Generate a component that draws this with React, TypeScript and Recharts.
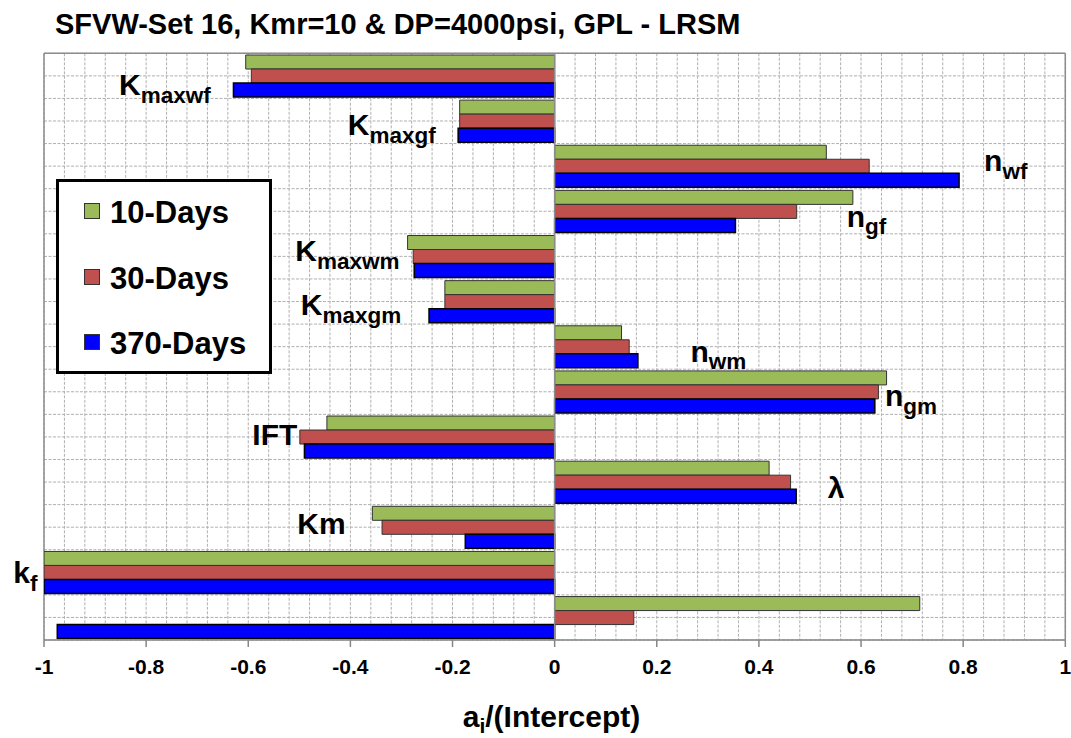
import React from 'react';
import {
  BarChart,
  Bar,
  XAxis,
  YAxis,
  CartesianGrid,
  ReferenceLine,
  ReferenceDot,
  Legend,
} from 'recharts';

// ---------- data ----------
const categories = ['Kmaxwf', 'Kmaxgf', 'nwf', 'ngf', 'Kmaxwm', 'Kmaxgm', 'nwm', 'ngm', 'IFT', 'lambda', 'Km', 'kf', 'term13'];
const days10 = [-0.605, -0.186, 0.532, 0.584, -0.288, -0.215, 0.131, 0.65, -0.446, 0.42, -0.357, -1, 0.715];
const days30 = [-0.594, -0.186, 0.616, 0.474, -0.277, -0.215, 0.146, 0.634, -0.499, 0.462, -0.338, -1, 0.155];
const days370 = [-0.629, -0.189, 0.792, 0.354, -0.275, -0.246, 0.163, 0.627, -0.49, 0.473, -0.175, -1, -0.974];
const xTicks = [-1, -0.8, -0.6, -0.4, -0.2, 0, 0.2, 0.4, 0.6, 0.8, 1];
const seriesNames = ['10-Days', '30-Days', '370-Days'];
const labelMain = ['K', 'K', 'n', 'n', 'K', 'K', 'n', 'n', 'IFT', 'λ', 'Km', 'k', ''];
const labelSub = ['maxwf', 'maxgf', 'wf', 'gf', 'maxwm', 'maxgm', 'wm', 'gm', '', '', '', 'f', ''];
const titleText = 'SFVW-Set 16, Kmr=10 & DP=4000psi, GPL - LRSM';

// ---------- layout / style ----------
const W = 1071;
const H = 738;
const FONT = '"Liberation Sans", Arial, Helvetica, sans-serif';
const colors = ['#9BBB59', '#C0504D', '#0000FF'];
const strokes = ['#333333', '#333333', '#000000'];
const strokeWidths = [1, 1, 1.5];
// annotation anchor: left edge in data units, baseline offset (px) from row centre
const labelX = [-0.853, -0.405, 0.841, 0.572, -0.508, -0.497, 0.266, 0.647, -0.592, 0.535, -0.504, -1.06, 0];
const labelDy = [19, 14, 5, 15.5, 4.5, 13.6, 15, 14.3, 8, 16.4, 7, 10.6, 0];

const data = categories.map((name, i) => ({
  name,
  d10: days10[i],
  d30: days30[i],
  d370: days370[i],
}));
const seriesKeys = ['d10', 'd30', 'd370'];

const makeLabel = (i: number) => (props: any) => {
  const vb = props.viewBox || {};
  const x = (vb.x || 0) + (vb.width || 0) / 2;
  const y = (vb.y || 0) + (vb.height || 0) / 2 + labelDy[i];
  return (
    <text x={x} y={y} fontFamily={FONT} fontWeight="bold" fontSize={30} fill="#000" textAnchor="start">
      {labelMain[i]}
      {labelSub[i] ? (
        <tspan fontSize={22.5} dy={7.7}>
          {labelSub[i]}
        </tspan>
      ) : null}
    </text>
  );
};

const LegendBox = (props: any) => {
  const payload = props.payload && props.payload.length ? props.payload : seriesNames.map((n, i) => ({ value: n, color: colors[i] }));
  return (
    <div style={{ position: 'relative', width: '100%', height: '100%' }}>
      {payload.map((p: any, i: number) => (
        <div key={i}>
          <div
            style={{
              position: 'absolute',
              left: 25.3,
              top: 21.3 + i * 65.5,
              width: 16,
              height: 16,
              boxSizing: 'border-box',
              background: colors[i],
              border: '1px solid #333',
            }}
          />
          <div
            style={{
              position: 'absolute',
              left: 51,
              top: 15.1 + i * 65.5,
              fontFamily: FONT,
              fontWeight: 'bold',
              fontSize: 31,
              lineHeight: '31px',
              whiteSpace: 'nowrap',
              color: '#000',
            }}
          >
            {seriesNames[i]}
          </div>
        </div>
      ))}
    </div>
  );
};

export default function App() {
  return (
    <div style={{ position: 'absolute', left: 0, top: 0, width: W, height: H, background: '#fff', fontFamily: FONT, overflow: 'hidden' }}>
      <div
        style={{
          position: 'absolute',
          left: 55,
          top: 35 - 0.8465 * 29,
          fontFamily: FONT,
          fontWeight: 'bold',
          fontSize: 29,
          lineHeight: '29px',
          whiteSpace: 'nowrap',
          color: '#000',
        }}
      >
        {titleText}
      </div>
      <div style={{ position: 'absolute', left: 0, top: 0 }}>
        <BarChart
          width={W}
          height={H}
          data={data}
          layout="vertical"
          margin={{ top: 53.3, right: 5.7, left: 44, bottom: 38 }}
          barCategoryGap={1.7}
          barGap={0}
          style={{ fontFamily: FONT }}
        >
          <CartesianGrid
            stroke="#b0b0b0"
            strokeDasharray="3 1.5"
            strokeWidth={1}
            horizontalCoordinatesGenerator={({ offset }: any) =>
              Array.from({ length: categories.length * 2 + 1 }, (_, i) => offset.top + (i * offset.height) / (categories.length * 2))
            }
            verticalCoordinatesGenerator={({ offset }: any) =>
              Array.from({ length: 51 }, (_, i) => offset.left + (i * offset.width) / 50)
            }
          />
          <CartesianGrid
            stroke="#8c8c8c"
            strokeWidth={1.5}
            horizontalCoordinatesGenerator={({ offset }: any) => [offset.top]}
            verticalCoordinatesGenerator={({ offset }: any) => [offset.left, offset.left + offset.width]}
          />
          <XAxis
            type="number"
            domain={[-1, 1]}
            ticks={xTicks}
            interval={0}
            allowDataOverflow
            height={60}
            tickSize={7}
            tickMargin={12}
            tickFormatter={(v: number) => String(v)}
            axisLine={{ stroke: '#868686', strokeWidth: 1.5 }}
            tickLine={{ stroke: '#868686', strokeWidth: 1.5 }}
            tick={{ fontSize: 21, fontWeight: 'bold', fill: '#000', fontFamily: FONT }}
          />
          <YAxis type="category" dataKey="name" hide />
          <ReferenceLine x={0} stroke="#8c8c8c" strokeWidth={1.5} />
          {seriesKeys.map((k, i) => (
            <Bar
              key={k}
              dataKey={k}
              name={seriesNames[i]}
              fill={colors[i]}
              stroke={strokes[i]}
              strokeWidth={strokeWidths[i]}
              isAnimationActive={false}
            />
          ))}
          {categories.map((c, i) =>
            labelMain[i] ? (
              <ReferenceDot
                key={'lab' + i}
                x={labelX[i]}
                y={c}
                r={0}
                fill="none"
                stroke="none"
                ifOverflow="visible"
                label={makeLabel(i)}
              />
            ) : null
          )}
          <Legend
            layout="vertical"
            align="center"
            verticalAlign="middle"
            content={<LegendBox />}
            wrapperStyle={{
              position: 'absolute',
              left: 56,
              top: 179,
              width: 216,
              height: 195,
              boxSizing: 'border-box',
              border: '3px solid #000',
              background: '#fff',
            }}
          />
        </BarChart>
      </div>
      <div
        style={{
          position: 'absolute',
          left: 551.5,
          transform: 'translateX(-50%)',
          top: 727 - 0.8465 * 30,
          fontFamily: FONT,
          fontWeight: 'bold',
          fontSize: 30,
          lineHeight: '30px',
          whiteSpace: 'nowrap',
          color: '#000',
        }}
      >
        a<span style={{ fontSize: 21, position: 'relative', top: 6 }}>i</span>/(Intercept)
      </div>
    </div>
  );
}
